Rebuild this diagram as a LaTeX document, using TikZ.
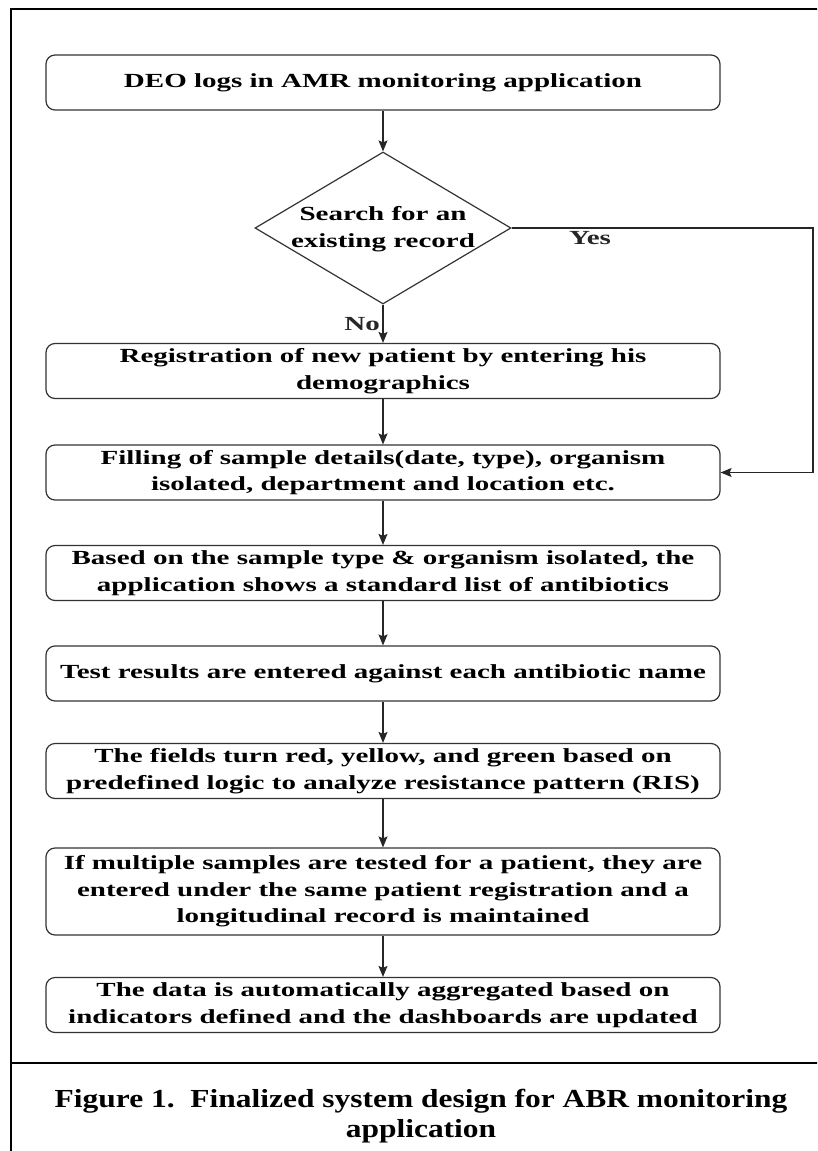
\documentclass[tikz,border=0pt]{standalone}
\usepackage{fontspec}
\usetikzlibrary{shapes.geometric,arrows.meta}
\newfontfamily\flowfont{Liberation Serif}[FakeStretch=1.45]
\newfontfamily\capfont{Liberation Serif}[FakeStretch=1.21]

\begin{document}
\begin{tikzpicture}
[x=1pt,y=-1pt,inner sep=2pt,
field/.style={font=\flowfont\bfseries\fontsize{20}{26.5}\selectfont, align=center},
box/.style={field, draw=black!80, line width=1.2pt, rounded corners=9pt, minimum width=674pt, minimum height=55pt},
decision/.style={draw=black!80, line width=1.2pt, diamond, minimum width=256pt, minimum height=152pt, inner sep=0pt},
note/.style={font=\flowfont\bfseries\fontsize{20}{24}\selectfont, inner sep=2.5pt},
flow/.style={draw, line width=1.2pt, color=black!85, -{Stealth[length=11pt,width=9pt,inset=2pt]}},
outline/.style={draw, line width=2.6pt, color=black}]
\useasboundingbox (0,0) rectangle (817,1151);
\clip (0,0) rectangle (817,1151);

\draw [outline] (11,9) rectangle (840,1180);
\draw [outline] (11,1063) -- (840,1063);

\node[box] (b1) at (383,82.5) {DEO logs in AMR monitoring application};
\node[decision] (d1) at (383,228) {};
\node[field] (d1t) at (383,229) {Search for an\\existing record};
\node[box] (b2) at (383,371) {Registration of new patient by entering his\\demographics};
\node[box] (b3) at (383,472.5) {Filling of sample details(date, type), organism\\isolated, department and location etc.};
\node[box] (b4) at (383,573) {Based on the sample type \& organism isolated, the\\application shows a standard list of antibiotics};
\node[box] (b5) at (383,673.5) {Test results are entered against each antibiotic name};
\node[box] (b6) at (383,771) {The fields turn red, yellow, and green based on\\predefined logic to analyze resistance pattern (RIS)};
\node[box, minimum height=87pt] (b7) at (383,891.5) {If multiple samples are tested for a patient, they are\\entered under the same patient registration and a\\longitudinal record is maintained};
\node[box] (b8) at (383,1005) {The data is automatically aggregated based on\\indicators defined and the dashboards are updated};

\node[font=\capfont\bfseries\fontsize{26}{30}\selectfont, align=center] (cap) at (421,1116) {Figure 1.\ \ Finalized system design for ABR monitoring\\application};

\coordinate (yes) at (813,228);

% FLOW
\draw [flow] (b1) -- (d1);
\draw [flow] (d1) -- node[note, left, midway] {No} (b2);
\draw [flow] (d1.east) -- node[note, below, pos=0.26] {Yes} (yes) |- (b3.east);
\draw [flow] (b2) -- (b3);
\draw [flow] (b3) -- (b4);
\draw [flow] (b4) -- (b5);
\draw [flow] (b5) -- (b6);
\draw [flow] (b6) -- (b7);
\draw [flow] (b7) -- (b8);
\end{tikzpicture}
\end{document}
